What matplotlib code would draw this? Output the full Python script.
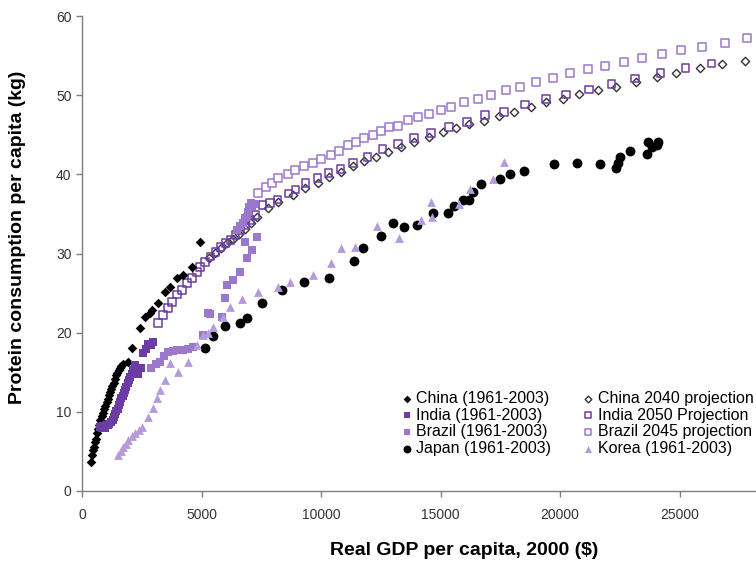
import matplotlib

matplotlib.use("Agg")
import matplotlib.pyplot as plt

plt.rcParams["font.family"] = ["Liberation Sans", "DejaVu Sans"]

# China (1961-2003)
china_x = [380, 420, 460, 500, 545, 590, 630, 670, 720, 760, 820, 880, 930, 970, 1030, 1090, 1130,
           1170, 1220, 1260, 1320, 1380, 1430, 1470, 1530, 1590, 1650, 1720, 1930, 2100, 2430, 2640,
           2850, 2940, 3190, 3480, 3690, 3980, 4240, 4600, 4940]
china_y = [3.7, 4.5, 5.2, 5.6, 6.2, 6.6, 7.3, 7.8, 8.4, 9.0, 9.5, 9.9, 10.4, 10.8, 11.2, 11.6, 12.1,
           12.5, 12.9, 13.3, 13.7, 14.1, 14.6, 14.9, 15.3, 15.6, 15.8, 16.0, 16.3, 18.1, 20.6, 22.0,
           22.5, 22.9, 23.7, 25.2, 25.8, 26.9, 27.3, 28.3, 31.5]

# India (1961-2003)
india_x = [750, 820, 880, 950, 1020, 1080, 1150, 1220, 1280, 1320, 1380, 1440, 1500, 1550, 1600, 1650,
           1700, 1760, 1800, 1860, 1930, 1980, 2010, 2080, 2140, 2220, 2350, 2480, 2560, 2680, 2770,
           2900, 2980]
india_y = [8.1, 7.9, 8.2, 8.0, 8.3, 8.4, 8.5, 8.7, 9.0, 9.3, 9.7, 10.1, 10.4, 10.9, 11.3, 11.7,
           12.0, 12.4, 12.8, 13.2, 13.6, 14.0, 14.4, 14.8, 15.3, 15.9, 14.8, 15.6, 17.4, 17.9, 18.6,
           18.5, 18.8]

# Brazil (1961-2003)
brazil_x = [2890, 3100, 3270, 3450, 3600, 3800, 3980, 4240, 4450, 4660, 5080, 5290, 5370, 5870, 6000,
            6080, 6330, 6630, 6920, 7130, 6840, 7340, 6500, 6600, 6750, 6800, 6900, 6950, 7000, 7050,
            7100, 7200]
brazil_y = [15.5, 16.0, 16.3, 17.0, 17.6, 17.7, 17.8, 17.8, 18.0, 18.2, 19.7, 22.5, 22.3, 22.0, 24.4,
            26.0, 26.6, 27.7, 29.4, 30.4, 31.5, 32.1, 33.0, 33.5, 33.8, 34.5, 34.6, 35.2, 35.9, 36.4,
            36.0, 36.3]

# Japan (1961-2003)
japan_x = [5160, 5500, 6000, 6590, 6920, 7550, 8350, 9290, 10320, 11370, 11740, 12520, 13020, 13460,
           14010, 14680, 15310, 15560, 15940, 16190, 16360, 16690, 17490, 17910, 18500, 19740, 20700,
           21690, 22360, 22440, 22530, 22940, 23620, 23700, 23830, 24040, 24120]
japan_y = [18.1, 19.6, 20.8, 21.2, 21.9, 23.7, 25.4, 26.4, 26.9, 29.1, 30.7, 32.2, 33.8, 33.3,
           33.6, 35.1, 35.1, 36.0, 36.8, 36.8, 37.8, 38.8, 39.4, 40.0, 40.4, 41.3, 41.4,
           41.3, 40.8, 41.4, 42.2, 42.9, 42.6, 44.1, 43.5, 43.7, 44.1]

# Korea (1961-2003)
korea_x = [1510, 1620, 1720, 1830, 1930, 2080, 2220, 2370, 2520, 2770, 2950, 3150, 3270, 3480, 3690,
           4030, 4450, 4830, 5080, 5290, 5500, 5910, 6210, 6710, 7380, 8180, 8700, 9650, 10400, 10820,
           11410, 12350, 13280, 14180, 14600, 14640, 15770, 16230, 17200, 17660]
korea_y = [4.5, 5.0, 5.6, 6.0, 6.4, 6.9, 7.3, 7.7, 8.1, 9.4, 10.5, 11.7, 12.8, 14.0, 16.2,
           15.0, 16.3, 18.4, 19.7, 20.0, 20.7, 22.0, 23.3, 24.3, 25.2, 25.8, 26.4, 27.3, 28.8, 30.7,
           30.8, 33.5, 32.0, 34.2, 36.5, 34.6, 36.2, 38.1, 39.4, 41.6]

# China 2040 projection
china_proj_x = [5300, 5550, 5800, 6050, 6300, 6550, 6800, 7050, 7340, 7800, 8220, 8810, 9350, 9860,
                10320, 10820, 11330, 11790, 12290, 12790, 13340, 13880, 14510, 15100, 15650, 16190,
                16820, 17450, 18080, 18790, 19420, 20130, 20810, 21600, 22360, 23200, 24040, 24870,
                25840, 26760, 27730]
china_proj_y = [29.4, 30.1, 30.7, 31.3, 31.8, 32.5, 33.1, 33.8, 34.6, 35.7, 36.5, 37.4, 38.3, 38.9,
                39.7, 40.3, 41.0, 41.7, 42.2, 42.8, 43.5, 44.1, 44.7, 45.3, 45.8, 46.3,
                46.8, 47.4, 47.9, 48.5, 49.1, 49.5, 50.1, 50.6, 51.0, 51.7, 52.3, 52.8,
                53.4, 53.9, 54.3]

# India 2050 Projection
india_proj_x = [3190, 3400, 3600, 3770, 3980, 4190, 4390, 4600, 4810, 4940, 5150, 5370, 5580, 5790,
                6000, 6210, 6420, 6630, 6840, 7050, 7260, 7550, 7870, 8180, 8640, 8930, 9350, 9860,
                10320, 10820, 11330, 11950, 12580, 13210, 13880, 14600, 15350, 16110, 16860, 17660,
                18540, 19420, 20260, 21220, 22150, 23150, 24200, 25250, 26340]
india_proj_y = [21.2, 22.2, 23.1, 23.9, 24.8, 25.4, 26.3, 26.9, 27.7, 28.3, 28.9, 29.6, 30.2, 30.8,
                31.3, 31.7, 32.3, 33.0, 33.6, 34.2, 34.9, 36.1, 36.4, 36.8, 37.6, 38.1, 38.9, 39.5,
                40.2, 40.7, 41.4, 42.2, 43.2, 43.8, 44.6, 45.2, 46.0, 46.6, 47.5, 47.9,
                48.8, 49.5, 50.1, 50.7, 51.4, 52.1, 52.8, 53.4, 54.0]

# Brazil 2045 projection
brazil_proj_x = [7380, 7680, 7970, 8220, 8600, 8930, 9270, 9650, 9980, 10400, 10740, 11120, 11450,
                 11790, 12160, 12500, 12840, 13210, 13630, 14050, 14510, 15020, 15440, 15980, 16570,
                 17110, 17740, 18330, 19000, 19710, 20430, 21180, 21900, 22690, 23450, 24250, 25080,
                 25960, 26890, 27810]
brazil_proj_y = [37.6, 38.4, 38.9, 39.5, 40.0, 40.5, 41.0, 41.4, 42.0, 42.4, 43.0, 43.7, 44.1,
                 44.6, 45.0, 45.5, 46.0, 46.1, 46.9, 47.2, 47.6, 48.1, 48.5, 49.1, 49.5,
                 50.0, 50.6, 51.0, 51.7, 52.2, 52.8, 53.3, 53.7, 54.2, 54.7, 55.2, 55.7,
                 56.1, 56.6, 57.2]

x_ticks = [0, 5000, 10000, 15000, 20000, 25000]
y_ticks = [0, 10, 20, 30, 40, 50, 60]

INDIA_COL = "#6b3ca3"
BRAZIL_COL = "#9a78cc"
KOREA_COL = "#b39bdc"

fig = plt.figure(figsize=(7.56, 5.62), dpi=100)
ax = fig.add_axes([82 / 756, 71 / 562, 674 / 756, 475 / 562])

ax.scatter(china_x, china_y, marker="D", s=24, color="black", linewidths=0, zorder=3,
           label="China (1961-2003)")
ax.scatter(india_x, india_y, marker="s", s=36, color=INDIA_COL, linewidths=0, zorder=3,
           label="India (1961-2003)")
ax.scatter(brazil_x, brazil_y, marker="s", s=36, color=BRAZIL_COL, linewidths=0, zorder=3,
           label="Brazil (1961-2003)")
ax.scatter(japan_x, japan_y, marker="o", s=50, color="black", linewidths=0, zorder=3,
           label="Japan (1961-2003)")
ax.scatter(china_proj_x, china_proj_y, marker="D", s=18, facecolors="white", edgecolors="#333333",
           linewidths=1.0, zorder=2, label="China 2040 projection")
ax.scatter(india_proj_x, india_proj_y, marker="s", s=30, facecolors="none", edgecolors=INDIA_COL,
           linewidths=1.1, zorder=2, label="India 2050 Projection")
ax.scatter(brazil_proj_x, brazil_proj_y, marker="s", s=30, facecolors="white", edgecolors=BRAZIL_COL,
           linewidths=1.1, zorder=2, label="Brazil 2045 projection")
ax.scatter(korea_x, korea_y, marker="^", s=40, color=KOREA_COL, linewidths=0, zorder=3,
           label="Korea (1961-2003)")

ax.set_xlim(0, 28200)
ax.set_ylim(0, 60)
ax.set_xticks(x_ticks)
ax.set_yticks(y_ticks)
for side in ("top", "right"):
    ax.spines[side].set_visible(False)
for side in ("left", "bottom"):
    ax.spines[side].set_color("#7f7f7f")
    ax.spines[side].set_linewidth(1.0)
ax.tick_params(direction="out", length=4, width=1, color="#7f7f7f", labelsize=10,
               labelcolor="#333333")
ax.tick_params(axis="x", pad=8)

ax.set_xlabel("Real GDP per capita, 2000 ($)", fontsize=14, fontweight="bold")
ax.set_ylabel("Protein consumption per capita (kg)", fontsize=14, fontweight="bold")
ax.xaxis.set_label_coords(0.567, -0.126)
ax.xaxis.label.set_va("center")
ax.yaxis.set_label_coords(-0.095, 0.535)
ax.yaxis.label.set_va("center")

ax.legend(ncol=2, frameon=False, fontsize=11.5, loc="upper left",
          bbox_to_anchor=(402 / 756, 1 - 391 / 562), bbox_transform=fig.transFigure,
          handlelength=0.6, handletextpad=0.3, labelspacing=0.1, columnspacing=2.0,
          borderpad=0, borderaxespad=0, scatterpoints=1, markerscale=0.8)

fig.savefig("out.png", dpi=100)
